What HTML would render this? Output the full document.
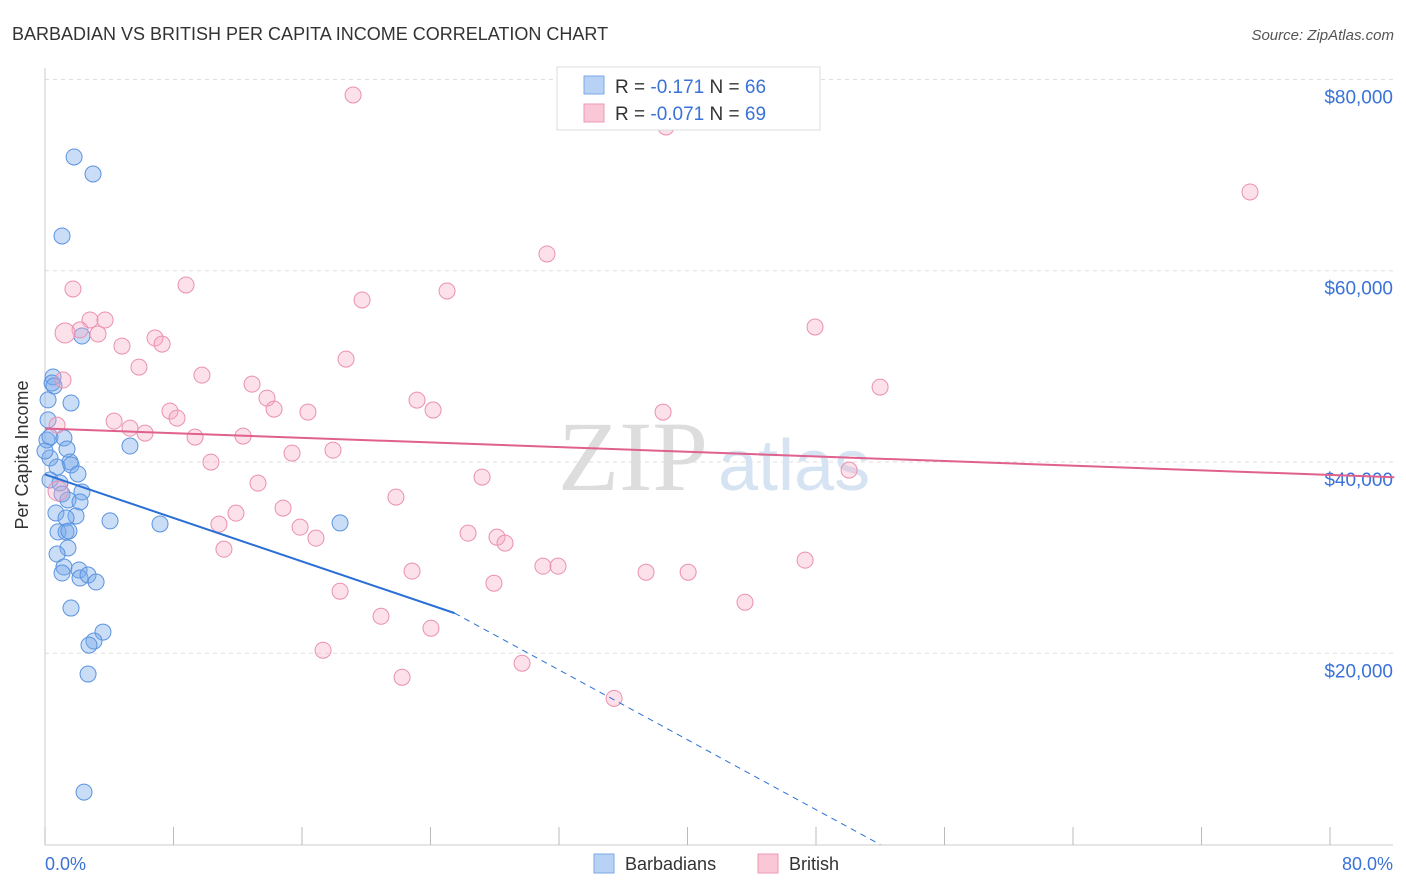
<!DOCTYPE html>
<html><head><meta charset="utf-8"><style>
body{margin:0;background:#fff;font-family:"Liberation Sans",sans-serif;}
svg{display:block}
</style></head><body>
<svg id="chart" width="1406" height="892">
<text x="12" y="40" font-size="18" fill="#333">BARBADIAN VS BRITISH PER CAPITA INCOME CORRELATION CHART</text>
<text x="1394" y="40" font-size="15" fill="#555" text-anchor="end" font-style="italic">Source: ZipAtlas.com</text>
<g id="grid"></g>
<g id="axes"></g>
<text x="708" y="490" font-size="100" fill="#ddd" text-anchor="end" font-family="Liberation Serif">ZIP</text>
<text x="718" y="490" font-size="72" fill="#d6e3f3">atlas</text>
<g id="pts"></g>
<g id="lines"></g>
<text x="28" y="455" font-size="18" fill="#333" text-anchor="middle" transform="rotate(-90 28 455)">Per Capita Income</text>
<text x="45" y="870" font-size="18" fill="#3a72d8">0.0%</text>
<text x="1393" y="870" font-size="18" fill="#3a72d8" text-anchor="end">80.0%</text>
<g>
<rect x="557" y="67" width="263" height="63" fill="#fff" stroke="#ddd"/>
<rect x="584" y="76" width="20" height="18" fill="#b8d2f5" stroke="#7ea8e8"/>
<rect x="584" y="104" width="20" height="18" fill="#f9c7d6" stroke="#ee9ab5"/>
<text x="615" y="93" font-size="19" fill="#333">R = <tspan fill="#3a72d8"> -0.171</tspan>   N = <tspan fill="#3a72d8">66</tspan></text>
<text x="615" y="120" font-size="19" fill="#333">R = <tspan fill="#3a72d8">-0.071</tspan>   N = <tspan fill="#3a72d8">69</tspan></text>
</g>
<g>
<rect x="594" y="854" width="20" height="19" fill="#b8d2f5" stroke="#7ea8e8"/>
<text x="625" y="870" font-size="18" fill="#333">Barbadians</text>
<rect x="758" y="854" width="20" height="19" fill="#f9c7d6" stroke="#ee9ab5"/>
<text x="789" y="870" font-size="18" fill="#333">British</text>
</g>
</svg>
<script>
const yTicks=[20000,40000,60000,80000];
const yTickLabels=["$20,000","$40,000","$60,000","$80,000"];
const blueX=[1.81,2.99,1.06,2.30,0.50,0.44,0.56,1.62,0.19,0.12,0.31,1.18,1.37,0.31,1.56,1.62,0.75,2.05,0.31,0.93,1.06,1.43,2.30,2.18,0.68,1.93,1.31,4.05,7.16,18.37,0.81,1.31,1.49,1.43,0.75,1.18,1.06,2.12,2.18,2.68,3.18,1.62,3.61,3.05,2.74,2.68,2.43,5.29,0.19,0];
const blueY=[71890,70110,63630,53170,48890,48260,47950,46170,44400,42300,42620,42510,41360,40420,40000,39690,39480,38750,38120,37810,36660,36030,36870,35820,34670,34360,34150,33840,33520,33630,32690,32690,32790,31010,30380,29020,28390,28710,27870,28180,27450,24730,22220,21280,20860,17830,5490,41670,46490,41150];
const pinkX=[19.18,38.66,75.02,31.25,1.74,8.78,25.03,19.74,2.80,3.74,47.94,2.18,1.25,3.30,6.85,7.29,4.79,18.74,5.85,9.77,12.89,51.99,13.82,23.16,14.26,7.78,24.16,16.37,38.48,8.22,0.75,4.30,5.29,6.23,9.34,12.33,17.93,15.38,10.33,50.06,27.21,13.26,21.85,14.82,11.89,10.83,15.88,16.87,26.34,28.14,28.64,11.14,22.85,31.0,31.94,37.42,40.04,27.95,47.32,18.37,43.58,20.92,24.03,17.31,29.70,22.23,35.43,0.81,1.12];
const pinkY=[78370,75030,68230,61750,58090,58510,57880,56940,54850,54850,54120,53810,53490,53380,52960,52330,52120,50760,49920,49080,48140,47830,46680,46470,45530,45320,45430,45220,45220,44590,43850,44270,43540,43020,42600,42710,41240,40930,39990,39150,38420,37790,36330,35180,34650,33500,33190,32040,32560,32140,31520,30890,28590,29110,29110,28480,28480,27330,29740,26490,25340,23870,22620,20320,18960,17490,15290,36970,48570];
const blueLine=[0,38700,25.5,24200,52,0];
const pinkLine=[0,43500,84,38400];
const NS="http://www.w3.org/2000/svg";
const X=v=>45+v/80*1285, Y=v=>844.6-v/20000*191.3;
function mk(t,a,p){const e=document.createElementNS(NS,t);for(const k in a)e.setAttribute(k,a[k]);p.appendChild(e);return e;}
const grid=document.getElementById('grid'),axes=document.getElementById('axes');
yTicks.forEach((t,i)=>{
 const l=mk('line',{x1:45,x2:1393,y1:Y(t),y2:Y(t),stroke:'#ddd','stroke-dasharray':'4 4'},grid);
 
 
 const tx=mk('text',{x:1393,y:Y(t)+24,'font-size':19,fill:'#3a72d8','text-anchor':'end'},axes);
 tx.textContent=yTickLabels[i];
 
 
});
mk('line',{x1:45,x2:45,y1:68,y2:845,stroke:'#ccc'},axes);
mk('line',{x1:45,x2:1393,y1:845,y2:845,stroke:'#ccc'},axes);
for(let i=0;i<=10;i++){const t=mk('line',{x1:X(i*8),x2:X(i*8),y1:827,y2:845,stroke:'#bbb'},axes);
 
 }
const pts=document.getElementById('pts');
blueX.forEach((x,i)=>{const c=mk('circle',{cx:X(x),cy:Y(blueY[i]),r:8,fill:'rgba(120,170,235,0.4)',stroke:'#5b93e0','stroke-width':1},pts);
 
 });
pinkX.forEach((x,i)=>{const c=mk('circle',{cx:X(x),cy:Y(pinkY[i]),r:(i==12||i==67)?10:8,fill:'rgba(245,170,195,0.35)',stroke:'#eb90b0','stroke-width':1},pts);
 
 });
const lg=document.getElementById('lines');
let l=mk('line',{x1:X(blueLine[0]),y1:Y(blueLine[1]),x2:X(blueLine[2]),y2:Y(blueLine[3]),stroke:'#2a6fd6','stroke-width':2},lg);


l=mk('line',{x1:X(blueLine[2]),y1:Y(blueLine[3]),x2:X(blueLine[4]),y2:Y(blueLine[5]),stroke:'#2a6fd6','stroke-width':1,'stroke-dasharray':'6 5'},lg);


l=mk('line',{x1:X(pinkLine[0]),y1:Y(pinkLine[1]),x2:X(pinkLine[2]),y2:Y(pinkLine[3]),stroke:'#e0608e','stroke-width':2},lg);


</script>
</body></html>
